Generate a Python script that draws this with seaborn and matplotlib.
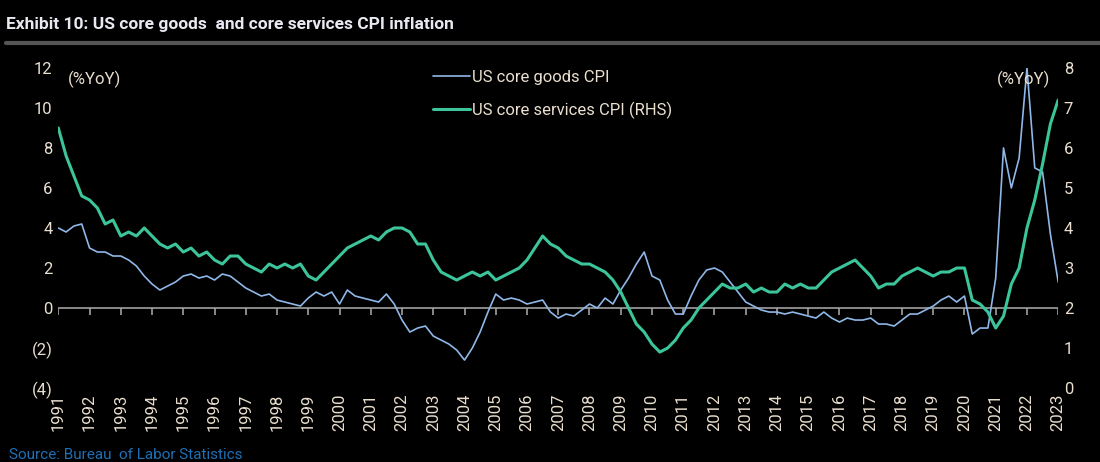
import matplotlib
matplotlib.use("Agg")
import matplotlib.pyplot as plt
import matplotlib.lines as mlines
import pandas as pd
import seaborn as sns

years = list(range(1991, 2024))

# quarterly readings, 1991Q1 .. 2023Q1
goods = [4.0, 3.8, 4.1, 4.2, 3.0, 2.8, 2.8, 2.6, 2.6, 2.4, 2.1, 1.6,
         1.2, 0.9, 1.1, 1.3, 1.6, 1.7, 1.5, 1.6, 1.4, 1.7, 1.6, 1.3,
         1.0, 0.8, 0.6, 0.7, 0.4, 0.3, 0.2, 0.1, 0.5, 0.8, 0.6, 0.8,
         0.2, 0.9, 0.6, 0.5, 0.4, 0.3, 0.7, 0.2, -0.6, -1.2, -1.0, -0.9,
         -1.4, -1.6, -1.8, -2.1, -2.6, -2.0, -1.2, -0.2, 0.7, 0.4, 0.5, 0.4,
         0.2, 0.3, 0.4, -0.2, -0.5, -0.3, -0.4, -0.1, 0.2, 0.0, 0.5, 0.2,
         0.9, 1.5, 2.2, 2.8, 1.6, 1.4, 0.4, -0.3, -0.3, 0.6, 1.4, 1.9,
         2.0, 1.8, 1.3, 0.8, 0.3, 0.1, -0.1, -0.2, -0.2, -0.3, -0.2, -0.3,
         -0.4, -0.5, -0.2, -0.5, -0.7, -0.5, -0.6, -0.6, -0.5, -0.8, -0.8, -0.9,
         -0.6, -0.3, -0.3, -0.1, 0.1, 0.4, 0.6, 0.3, 0.6, -1.3, -1.0, -1.0,
         1.5, 8.0, 6.0, 7.5, 12.0, 7.0, 6.8, 3.7, 1.3]
services = [6.5, 5.8, 5.3, 4.8, 4.7, 4.5, 4.1, 4.2, 3.8, 3.9, 3.8, 4.0,
            3.8, 3.6, 3.5, 3.6, 3.4, 3.5, 3.3, 3.4, 3.2, 3.1, 3.3, 3.3,
            3.1, 3.0, 2.9, 3.1, 3.0, 3.1, 3.0, 3.1, 2.8, 2.7, 2.9, 3.1,
            3.3, 3.5, 3.6, 3.7, 3.8, 3.7, 3.9, 4.0, 4.0, 3.9, 3.6, 3.6,
            3.2, 2.9, 2.8, 2.7, 2.8, 2.9, 2.8, 2.9, 2.7, 2.8, 2.9, 3.0,
            3.2, 3.5, 3.8, 3.6, 3.5, 3.3, 3.2, 3.1, 3.1, 3.0, 2.9, 2.7,
            2.4, 2.0, 1.6, 1.4, 1.1, 0.9, 1.0, 1.2, 1.5, 1.7, 2.0, 2.2,
            2.4, 2.6, 2.5, 2.5, 2.6, 2.4, 2.5, 2.4, 2.4, 2.6, 2.5, 2.6,
            2.5, 2.5, 2.7, 2.9, 3.0, 3.1, 3.2, 3.0, 2.8, 2.5, 2.6, 2.6,
            2.8, 2.9, 3.0, 2.9, 2.8, 2.9, 2.9, 3.0, 3.0, 2.2, 2.1, 1.9,
            1.5, 1.8, 2.6, 3.0, 4.0, 4.7, 5.6, 6.6, 7.2]

df = pd.DataFrame({"t": [1991 + i / 4 for i in range(len(goods))],
                   "goods": goods, "services": services})

sns.set_style("dark")
plt.rcParams["font.family"] = ["Roboto", "DejaVu Sans"]
txt = "#eadfcf"
goods_c = "#8fb8e8"
serv_c = "#3cc49a"

fig = plt.figure(figsize=(11, 4.62), dpi=100, facecolor="black")
ax = fig.add_axes([0.053, 0.16, 0.909, 0.693], facecolor="black")
ax2 = ax.twinx()

sns.lineplot(data=df, x="t", y="goods", ax=ax, color=goods_c, lw=1.2)
sns.lineplot(data=df, x="t", y="services", ax=ax2, color=serv_c, lw=2.2)

ax.set_xlim(1991, 2023)
ax.set_ylim(-4, 12)
ax2.set_ylim(0, 8)
ax.set_yticks(range(-4, 13, 2))
ax.set_yticklabels(["(4)", "(2)", "0", "2", "4", "6", "8", "10", "12"])
ax2.set_yticks(range(0, 9))
ax.set_xticks(years)
ax.set_xticklabels([str(y) for y in years], rotation=90)
for a in (ax, ax2):
    a.set_xlabel("")
    a.set_ylabel("")
    a.grid(False)
    for s in a.spines.values():
        s.set_visible(False)
    a.tick_params(colors=txt, labelsize=12, length=0, pad=4)

ax.axhline(0, color="#a0a0a0", lw=1.2, zorder=1)
ax.vlines(years, -0.35, 0, color="#a0a0a0", lw=1.2, zorder=1)

ax.text(0.01, 0.99, "(%YoY)", transform=ax.transAxes, color=txt, fontsize=12, va="top")
ax2.text(0.992, 0.99, "(%YoY)", transform=ax2.transAxes, color=txt, fontsize=12, va="top", ha="right")

handles = [mlines.Line2D([], [], color=goods_c, lw=1.2, label="US core goods CPI"),
           mlines.Line2D([], [], color=serv_c, lw=2.2, label="US core services CPI (RHS)")]
leg = ax2.legend(handles=handles, loc="upper left", bbox_to_anchor=(0.36, 1.04), frameon=False,
                 fontsize=12, labelspacing=1.0, handlelength=2.2, handletextpad=0.1)
for t in leg.get_texts():
    t.set_color(txt)

fig.text(0.005, 0.948, "Exhibit 10: US core goods  and core services CPI inflation",
         color="#e8e8f0", fontsize=12.5, fontweight="bold", va="center")
fig.add_artist(mlines.Line2D([0.005, 1.0], [0.907, 0.907], color="#555555", lw=3))
fig.text(0.008, 0.0, "Source: Bureau  of Labor Statistics", color="#1f6fb4", fontsize=11, va="bottom")

fig.savefig("out.png", dpi=100, facecolor="black")
